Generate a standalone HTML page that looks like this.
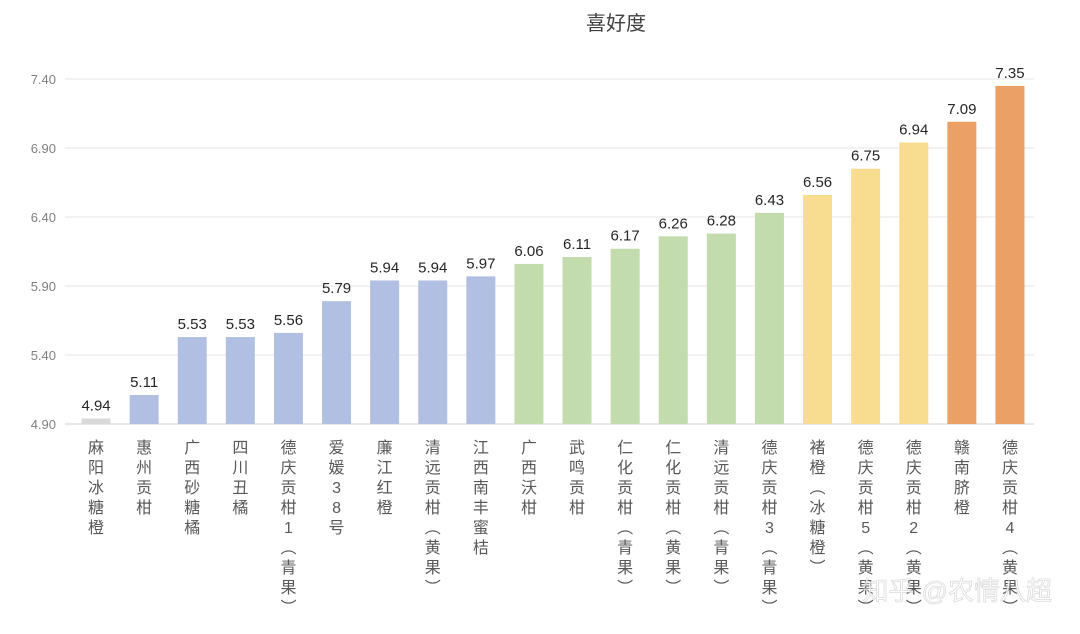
<!DOCTYPE html>
<html><head><meta charset="utf-8"><style>
html,body{margin:0;padding:0;background:#fff;}
svg{display:block;font-family:"Liberation Sans","Noto Sans CJK SC",sans-serif;}
</style></head><body>
<svg id="chart" width="1080" height="634">
<text x="616" y="30" text-anchor="middle" font-size="20" fill="#404040">喜好度</text>
<g id="grid"></g><g id="bars"></g><g id="xlabels"></g>
<text x="1052" y="600" text-anchor="end" font-size="26" fill="#ffffff" fill-opacity="0.75" stroke="#999" stroke-opacity="0.35" stroke-width="0.8">知乎 @农情八超</text>
</svg>
<script>
const categories=["麻阳冰糖橙","惠州贡柑","广西砂糖橘","四川丑橘","德庆贡柑1（青果）","爱媛38号","廉江红橙","清远贡柑（黄果）","江西南丰蜜桔","广西沃柑","武鸣贡柑","仁化贡柑（青果）","仁化贡柑（黄果）","清远贡柑（青果）","德庆贡柑3（青果）","褚橙（冰糖橙）","德庆贡柑5（黄果）","德庆贡柑2（黄果）","赣南脐橙","德庆贡柑4（黄果）"];
const values=[4.94,5.11,5.53,5.53,5.56,5.79,5.94,5.94,5.97,6.06,6.11,6.17,6.26,6.28,6.43,6.56,6.75,6.94,7.09,7.35];
const colorGroups=[0,1,1,1,1,1,1,1,1,2,2,2,2,2,2,3,3,3,4,4];
const yTicks=[4.90,5.40,5.90,6.40,6.90,7.40];
const palette=["#d9d9d9","#b1c0e2","#c3dcae","#f8dd91","#eba066"];
const NS="http://www.w3.org/2000/svg";
const yMin=4.9,yMax=7.4,y0=424,y1=79,xL=72,xR=1034;
const y=v=>y0-(v-yMin)/(yMax-yMin)*(y0-y1);
const step=(xR-xL)/categories.length;
const xc=i=>xL+step*(i+0.5);
function mk(t,a,p){const e=document.createElementNS(NS,t);for(const k in a)e.setAttribute(k,a[k]);p.appendChild(e);return e;}
const grid=document.getElementById('grid');
yTicks.forEach(t=>{
 const l=mk('line',{x1:65,x2:xR,y1:y(t),y2:y(t),stroke:t===yMin?'#d0d0d0':'#e6e6e6','stroke-width':1},grid);
 
 
 const tx=mk('text',{x:56,y:y(t)+5,'text-anchor':'end','font-size':13,fill:'#7f7f7f'},grid);
 tx.textContent=t.toFixed(2);
 
 
});
const bars=document.getElementById('bars'),xl=document.getElementById('xlabels');
const bw=29;
values.forEach((v,i)=>{
 const r=mk('rect',{x:xc(i)-bw/2,y:y(v),width:bw,height:y0-y(v),fill:palette[colorGroups[i]]},bars);
 
 
 const t=mk('text',{x:xc(i),y:y(v)-8,'text-anchor':'middle','font-size':15,fill:'#262626'},bars);
 t.textContent=v.toFixed(2);
 
 
 const g=mk('g',{},xl);
 
 
 [...categories[i]].forEach((c,j)=>{
  const ch=c==='（'?'︵':c==='）'?'︶':c;
  const s=mk('text',{x:xc(i),y:453+j*20,'text-anchor':'middle','font-size':16,fill:'#595959'},g);
  s.textContent=ch;
 });
});
</script>
</body></html>
